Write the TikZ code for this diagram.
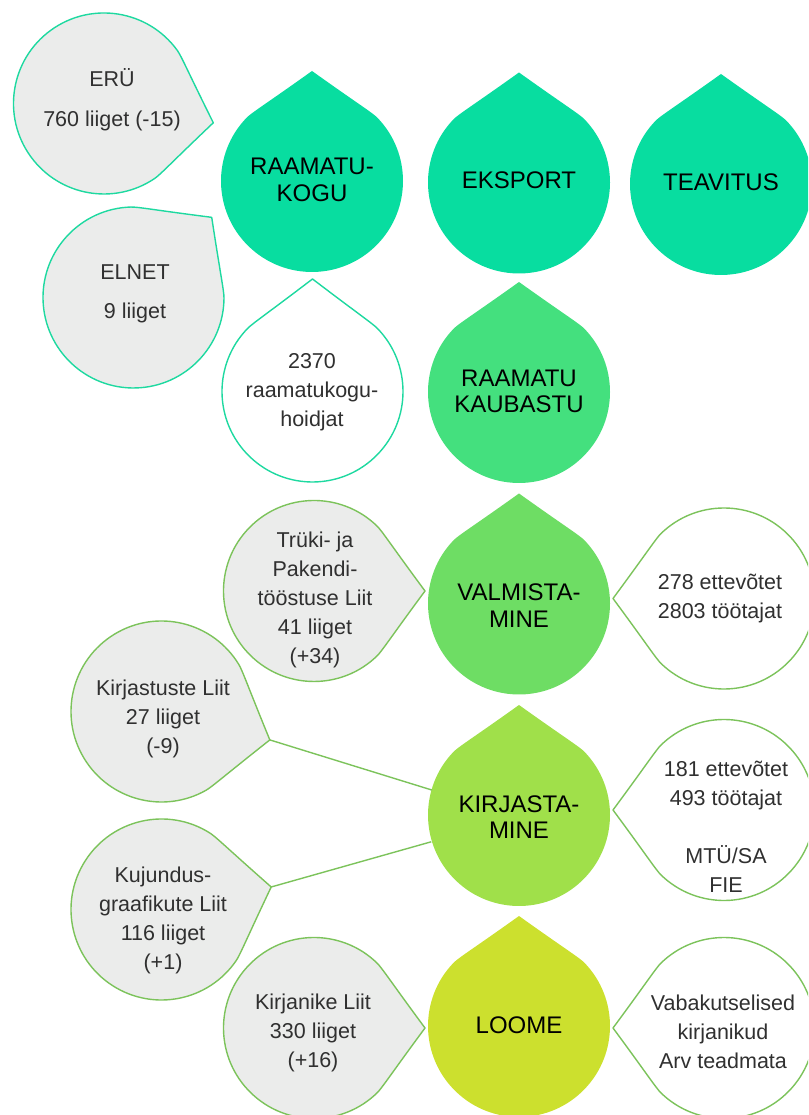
\documentclass[tikz,border=0pt]{standalone}
\usepackage{fontspec}
\setmainfont{Liberation Sans}
\usetikzlibrary{calc}
\definecolor{teal1}{HTML}{08DDA0}
\definecolor{teal2}{HTML}{44E07E}
\definecolor{green1}{HTML}{6EDD64}
\definecolor{green2}{HTML}{A0E04A}
\definecolor{lime1}{HTML}{CCE02E}
\definecolor{grayfill}{HTML}{EBECEB}
\definecolor{tealline}{HTML}{1ED9A0}
\definecolor{greenline}{HTML}{7CC35B}
\definecolor{txt}{HTML}{303030}
\newcommand{\drop}[7]{%
  \coordinate (#1-c) at (#2,#3);
  \coordinate (#1-t) at ($(#1-c)+({#6}:{#5})$);
  \coordinate (#1-p) at ($(#1-c)+({#6+46}:{#4})$);
  \coordinate (#1-q) at ($(#1-c)+({#6-46}:{#4})$);
  \path[#7] (#1-t) .. controls ($(#1-t)!0.7!(#1-p)$) and ($(#1-p)+({#6+46-90}:7)$) .. (#1-p)
    arc[start angle={#6+46}, end angle={#6+314}, radius={#4}]
    .. controls ($(#1-q)+({#6-46+90}:7)$) and ($(#1-t)!0.7!(#1-q)$) .. (#1-t) -- cycle;
}
\tikzset{
  maindrop/.style={fill=#1, draw=none},
  subdrop/.style={fill=grayfill, draw=#1, line width=1.4pt, line join=round},
  whitedrop/.style={fill=white, draw=#1, line width=1.4pt, line join=round},
  maintext/.style={font=\fontsize{24}{26.5}\selectfont, align=center, text=black, circle, minimum size=182pt, inner sep=0pt},
  subtext/.style={font=\fontsize{21.5}{29}\selectfont, align=center, text=txt, inner sep=0pt},
  conn/.style={draw=greenline, line width=1.4pt}
}
\begin{document}
\begin{tikzpicture}[x=1pt,y=1pt]
\useasboundingbox (0,0) rectangle (808,1115);
\clip (0,0) rectangle (808,1115);
% main drops
\drop{rk}{312}{934}{91}{110}{90}{maindrop=teal1}
\drop{eks}{519}{932.5}{91}{110}{90}{maindrop=teal1}
\drop{tea}{721}{931}{91}{110}{90}{maindrop=teal1}
\drop{kaub}{519}{723}{91}{110}{90}{maindrop=teal2}
\drop{valm}{519}{511.5}{91}{110}{90}{maindrop=green1}
\drop{kirj}{519}{300}{91}{110}{90}{maindrop=green2}
\drop{loome}{519}{89}{91}{110}{90}{maindrop=lime1}
% side drops
\drop{eru}{104}{1011.5}{90.5}{111}{-10}{subdrop=tealline}
\drop{elnet}{133.5}{817.5}{90.5}{112}{45.7}{subdrop=tealline}
\drop{hoid}{312.5}{723.5}{90.5}{112.5}{90}{whitedrop=tealline}
\drop{truki}{314}{524}{90.5}{111}{0}{subdrop=greenline}
\drop{kliit}{161.5}{403.5}{90.5}{112}{-14.7}{subdrop=greenline}
\drop{kuj}{161.5}{205.5}{90.5}{112}{11.6}{subdrop=greenline}
\drop{kirjanike}{314}{87}{90.5}{111}{0}{subdrop=greenline}
\drop{rone}{724}{516.5}{90.5}{111}{180}{whitedrop=greenline}
\drop{rtwo}{724}{305}{90.5}{111}{180}{whitedrop=greenline}
\drop{rthree}{724}{87}{90.5}{111}{180}{whitedrop=greenline}
% main labels
\node[maintext] (rkT) at (312,935) {RAAMATU-\\KOGU};
\node[maintext] (eksT) at (519,935) {EKSPORT};
\node[maintext] (teaT) at (721,933) {TEAVITUS};
\node[maintext] (kaubT) at (519,723.5) {RAAMATU\\KAUBASTU};
\node[maintext] (valmT) at (519,509.5) {VALMISTA-\\MINE};
\node[maintext] (kirjT) at (519,298) {KIRJASTA-\\MINE};
\node[maintext] (loomeT) at (519,90) {LOOME};
% side labels
\node[subtext] (eruT) at (112,1015) {ERÜ\\[11pt]760 liiget (-15)};
\node[subtext] (elnetT) at (135,821.5) {ELNET\\[10pt]9 liiget};
\node[subtext] (hoidT) at (312,723) {2370\\raamatukogu-\\hoidjat};
\node[subtext] (trukiT) at (315,515) {Trüki- ja\\Pakendi-\\tööstuse Liit\\41 liiget\\(+34)};
\node[subtext] (roneT) at (720,516.5) {278 ettevõtet\\2803 töötajat};
\node[subtext] (kliitT) at (163,396) {Kirjastuste Liit\\27 liiget\\(-9)};
\node[subtext] (kujT) at (163,194.5) {Kujundus-\\graafikute Liit\\116 liiget\\(+1)};
\node[subtext] (rtwoT) at (726,288.5) {181 ettevõtet\\493 töötajat\\[29pt]MTÜ/SA\\FIE};
\node[subtext] (kirjanikeT) at (313,82.5) {Kirjanike Liit\\330 liiget\\(+16)};
\node[subtext] (rthreeT) at (723,83) {Vabakutselised\\kirjanikud\\Arv teadmata};
% connectors
\draw[conn] (kliit-t) -- (kirjT);
\draw[conn] (kuj-t) -- (kirjT);
\end{tikzpicture}
\end{document}
